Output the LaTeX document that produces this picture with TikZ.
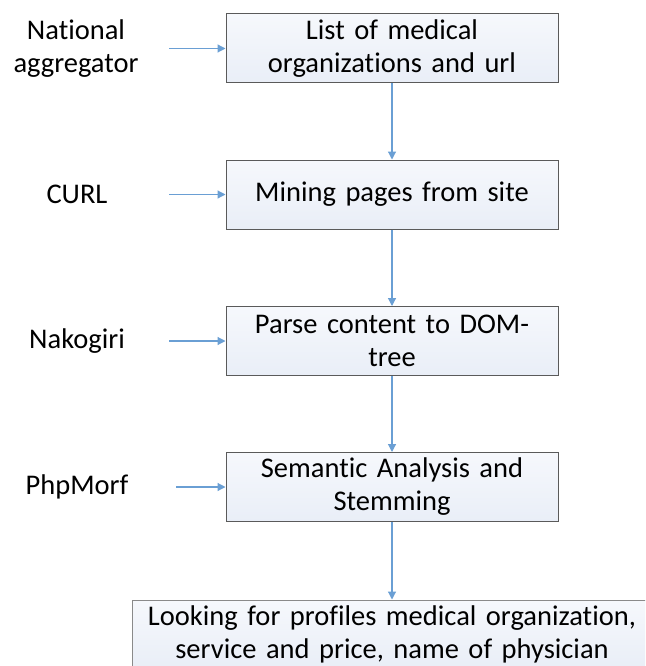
\documentclass[tikz,border=0pt]{standalone}
\usepackage{fontspec}
\setmainfont{Carlito}[Ligatures=NoCommon]
\usetikzlibrary{arrows.meta}
\definecolor{arrowblue}{HTML}{6A9FD4}
\definecolor{boxline}{HTML}{5A5A5A}
\definecolor{boxlinelight}{HTML}{8A8A8A}
\definecolor{boxtop}{HTML}{F6F8FC}
\definecolor{boxbot}{HTML}{E9EEF7}
\begin{document}
\begin{tikzpicture}[x=1pt,y=-1pt,
  font=\fontsize{28.5}{33}\selectfont,
  stepbox/.style={draw=boxline, line width=1pt, top color=boxtop, bottom color=boxbot,
    minimum width=332pt, minimum height=69pt, text width=322pt, align=center, inner sep=0pt},
  lastbox/.style={draw=boxlinelight, line width=1pt, top color=boxtop, bottom color=boxbot,
    minimum width=520pt, minimum height=68pt, text width=510pt, align=center, inner sep=0pt},
  tool/.style={align=center, inner sep=0pt},
  flow/.style={draw=arrowblue, line width=1.2pt, -{Triangle[length=8pt,width=8pt]}}]
\clip (0,0) rectangle (645,666);
\fill[white] (0,0) rectangle (645,666);

\node[stepbox] (b1) at (392,48.5) {List of medical\\organizations and url};
\node[stepbox] (b2) at (392,194.5) {Mining pages from site};
\node[stepbox] (b3) at (392,341) {Parse content to DOM-\\tree};
\node[stepbox] (b4) at (392,487) {Semantic Analysis and\\Stemming};
\node[lastbox] (b5) at (392,634) {Looking for profiles medical organization,\\service and price, name of physician};

\node[tool] (t1) at (76,48.5) {National\\aggregator};
\node[tool] (t2) at (77,194.5) {CURL};
\node[tool] (t3) at (77,341) {Nakogiri};
\node[tool] (t4) at (77,487) {PhpMorf};

\coordinate (s1) at (169,48.5);
\coordinate (s2) at (169,194.5);
\coordinate (s3) at (169,341);
\coordinate (s4) at (176,487);

\draw[flow] (s1) -- (b1.west);
\draw[flow] (s2) -- (b2.west);
\draw[flow] (s3) -- (b3.west);
\draw[flow] (s4) -- (b4.west);

\draw[flow] (b1.south) -- (b2.north);
\draw[flow] (b2.south) -- (b3.north);
\draw[flow] (b3.south) -- (b4.north);
\draw[flow] (b4.south) -- (b5.north);
\end{tikzpicture}
\end{document}
